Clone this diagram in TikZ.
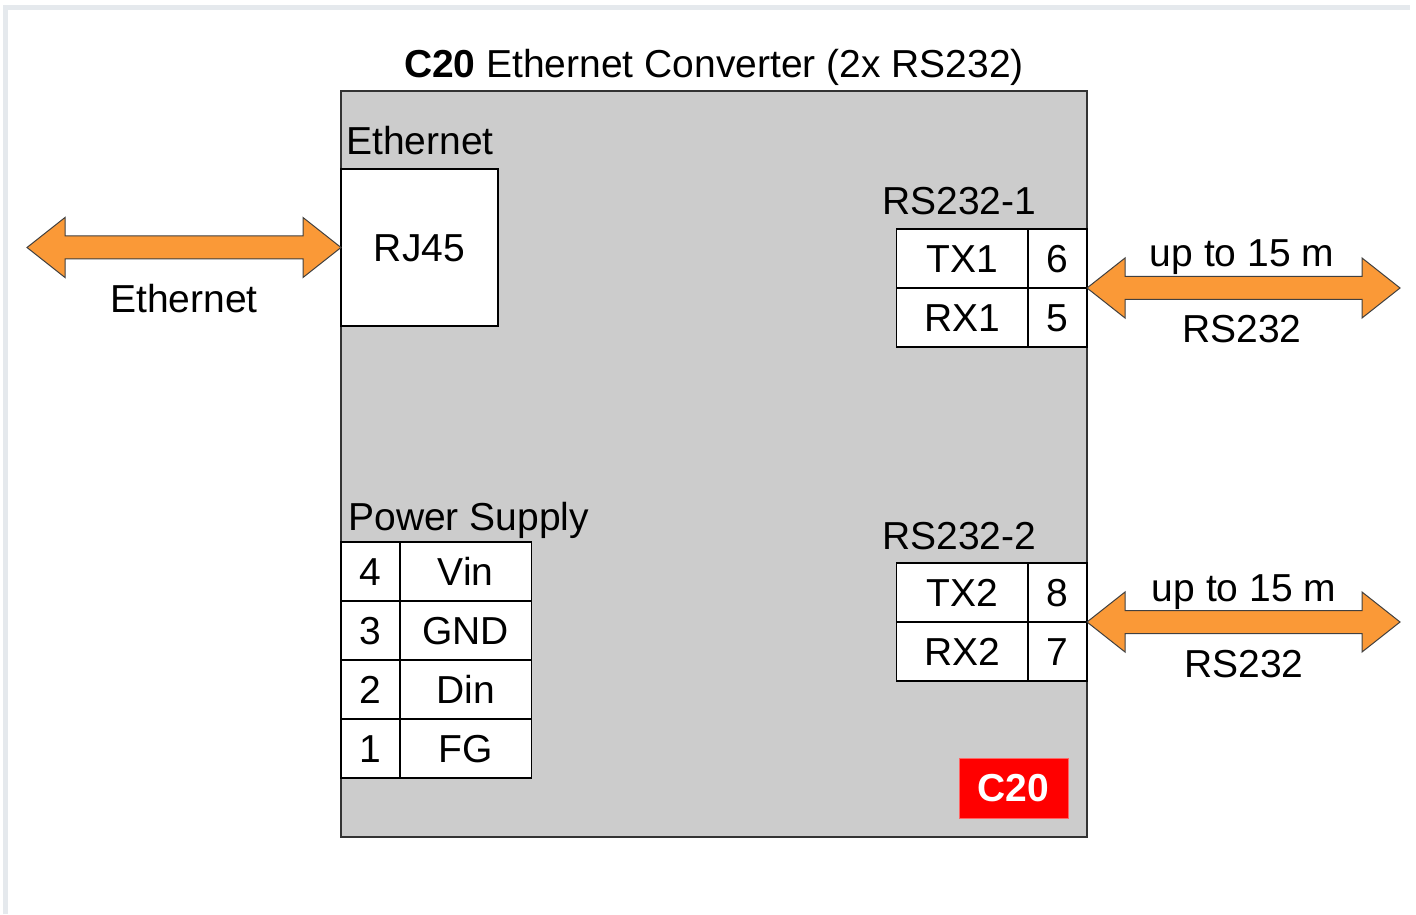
\documentclass[tikz,border=0pt]{standalone}
\usepackage{fontspec}
\setmainfont{Liberation Sans}
\usepackage{tikz}
\usetikzlibrary{positioning,calc}
\usepackage{xcolor}

\definecolor{boxgray}{RGB}{204,204,204}
\definecolor{arroworange}{RGB}{250,153,55}
\definecolor{framegray}{RGB}{229,233,237}

% fat double arrow between two points (horizontal)
\newcommand{\fatarrow}[2]{%
  \filldraw[fatarrow] let \p1=(#1), \p2=(#2) in
    (\p1) -- (\x1+19pt,\y1+15pt) -- (\x1+19pt,\y1+5.75pt)
    -- (\x2-19pt,\y2+5.75pt) -- (\x2-19pt,\y2+15pt) -- (\p2)
    -- (\x2-19pt,\y2-15pt) -- (\x2-19pt,\y2-5.75pt)
    -- (\x1+19pt,\y1-5.75pt) -- (\x1+19pt,\y1-15pt) -- cycle;}

\begin{document}
\begin{tikzpicture}[
    x=0.5pt, y=-0.5pt,
    font=\fontsize{19.5}{23}\selectfont,
    mainbox/.style={draw=black!80, line width=1pt, fill=boxgray, minimum size=373pt, inner sep=0},
    txt/.style={inner sep=0, text height=14pt, text depth=0pt},
    cell/.style={draw, fill=white, line width=0.6pt, outer sep=0, inner sep=0, minimum height=29.5pt, text height=14pt, text depth=0pt},
    pincell/.style={cell, minimum width=29.5pt},
    namecell/.style={cell, minimum width=65.75pt},
    fatarrow/.style={fill=arroworange, draw=black!75, line width=0.5pt, line join=miter},
    badge/.style={fill=red, draw=red!60, line width=0.4pt, text=white, font=\fontsize{19.5}{23}\selectfont\bfseries, minimum width=54.5pt, minimum height=30pt, inner sep=0}
]
    \useasboundingbox (0,0) rectangle (1416,914);

    % Frame
    \draw[framegray, line width=2.5pt] (5.5,914) -- (5.5,8) -- (1410,8);

    % Converter body
    \node[mainbox] (conv) at (714,464) {};
    \node[txt] (title) at (714,64) {\textbf{C20} Ethernet Converter (2x RS232)};

    % Ethernet port
    \node[txt, anchor=west] (ethlabel) at (346,141) {Ethernet};
    \node[cell, minimum width=78.5pt, minimum height=78.5pt, anchor=north west] (rj45) at (341,169) {RJ45};

    % Power supply connector
    \node[txt, anchor=west] (pwlabel) at (348,516) {Power Supply};
    \foreach \p/\n [count=\i] in {4/Vin,3/GND,2/Din,1/FG} {
        \pgfmathsetmacro{\y}{542 + (\i-1)*59}
        \node[pincell, anchor=north west] (pw\p) at (341,\y) {\p};
        \node[namecell, right=0pt of pw\p] (pwn\p) {\n};
    }

    % RS232 ports
    \node[txt, anchor=west] (rs1label) at (882,201) {RS232-1};
    \node[txt, anchor=west] (rs2label) at (882,535) {RS232-2};
    \foreach \s/\p/\y in {TX1/6/229, RX1/5/288, TX2/8/563, RX2/7/622} {
        \node[pincell, anchor=north east] (p\p) at (1087,\y) {\p};
        \node[namecell, left=0pt of p\p] (s\p) {\s};
    }

    % Red badge
    \node[badge] (badge) at (1013.5,788) {C20};

    % Ethernet link
    \path (rj45.west) ++(-314,0) coordinate (ethEnd);
    \fatarrow{ethEnd}{rj45.west}
    \node[txt] (ethtext) at (184,299) {Ethernet};

    % RS232 links
    \path (p6.south east) ++(313,0) coordinate (rs1End);
    \path (p8.south east) ++(313,0) coordinate (rs2End);
    \fatarrow{p6.south east}{rs1End}
    \fatarrow{p8.south east}{rs2End}
    \node[txt] (len1) at (1242,253) {up to 15 m};
    \node[txt] (bus1) at (1242,329) {RS232};
    \node[txt] (len2) at (1244,587) {up to 15 m};
    \node[txt] (bus2) at (1244,663) {RS232};
\end{tikzpicture}
\end{document}
